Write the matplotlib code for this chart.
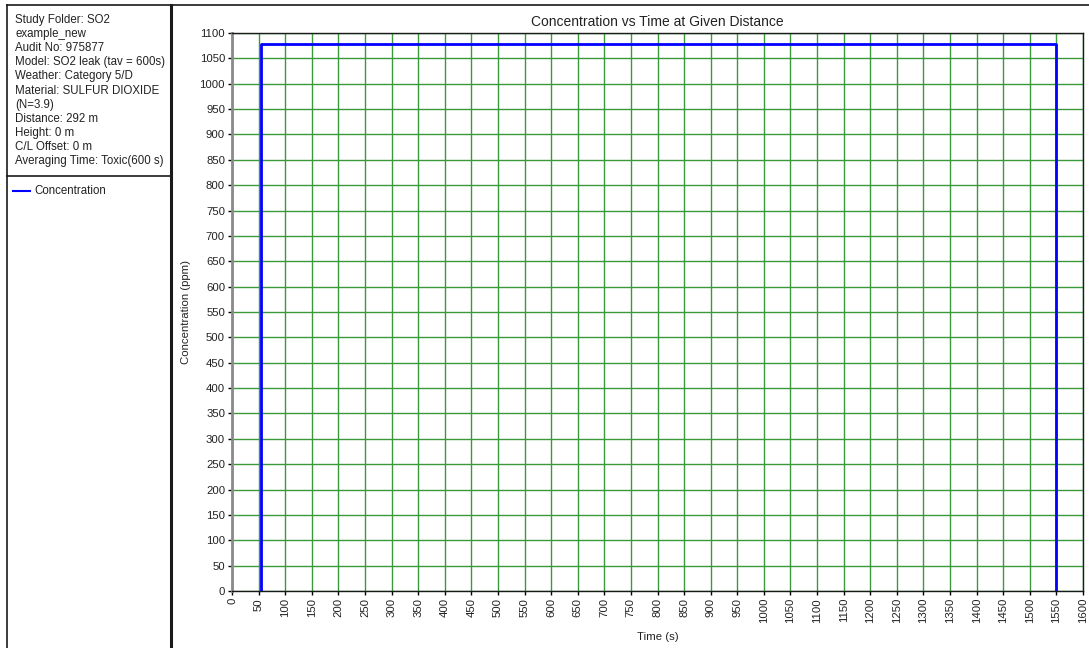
import numpy as np
import matplotlib.pyplot as plt
from matplotlib.lines import Line2D

plt.rcParams['font.family'] = ['Liberation Sans', 'DejaVu Sans']

# Concentration step at the receptor
time_s = [54, 54, 1550, 1550]
conc_ppm = [0, 1078, 1078, 0]

x_ticks = np.arange(0, 1601, 50)
y_ticks = np.arange(0, 1101, 50)

info_lines = [
    "Study Folder: SO2",
    "example_new",
    "Audit No: 975877",
    "Model: SO2 leak (tav = 600s)",
    "Weather: Category 5/D",
    "Material: SULFUR DIOXIDE",
    "(N=3.9)",
    "Distance: 292 m",
    "Height: 0 m",
    "C/L Offset: 0 m",
    "Averaging Time: Toxic(600 s)",
]

W, H = 1089, 648
fig = plt.figure(figsize=(W / 100, H / 100), dpi=100)


def fx(px):
    return px / W


def fy(py):
    return 1 - py / H


# panel borders
for xs, ys, lw in [
    ([6.5, 6.5], [5, 648], 1.2),
    ([171, 171], [5, 648], 2.2),
    ([6.5, 1089], [5, 5], 1.2),
    ([6.5, 171], [176, 176], 1.2),
]:
    fig.add_artist(Line2D([fx(v) for v in xs], [fy(v) for v in ys],
                          color='#1a1a1a', lw=lw))

# study info text
for i, line in enumerate(info_lines):
    fig.text(fx(15), fy(20 + i * 14.1), line, fontsize=8.3,
             va='center', ha='left', color='#222222')

# legend
fig.add_artist(Line2D([fx(13), fx(30)], [fy(191), fy(191)], color='blue', lw=1.5))
fig.text(fx(34), fy(191), "Concentration", fontsize=8.3, va='center', ha='left',
         color='#222222')

ax = fig.add_axes([fx(232), fy(591), fx(1083 - 232), (591 - 33) / H])
ax.plot(time_s, conc_ppm, color='#0000ff', lw=2, zorder=3)

ax.set_xlim(0, 1600)
ax.set_ylim(0, 1100)
ax.set_xticks(x_ticks)
ax.set_yticks(y_ticks)
ax.set_xticklabels([str(v) for v in x_ticks], rotation=90, fontsize=8.2,
                   color='#222222')
ax.set_yticklabels([str(v) for v in y_ticks], fontsize=8.2, color='#222222')
ax.tick_params(axis='both', length=3, width=1, pad=2)
ax.grid(True, color='#3a9a3a', lw=1)
ax.set_axisbelow(True)

for side in ['top', 'right', 'bottom']:
    ax.spines[side].set_color('#1a1a1a')
    ax.spines[side].set_linewidth(1)
ax.spines['left'].set_color('#8a8a8a')
ax.spines['left'].set_linewidth(2)

ax.set_title("Concentration vs Time at Given Distance", fontsize=10,
             color='#222222', pad=5)
ax.set_xlabel("Time (s)", fontsize=8.2, color='#222222', labelpad=6)
ax.set_ylabel("Concentration (ppm)", fontsize=8.2, color='#222222', labelpad=6)

fig.savefig("out.png", dpi=100)
